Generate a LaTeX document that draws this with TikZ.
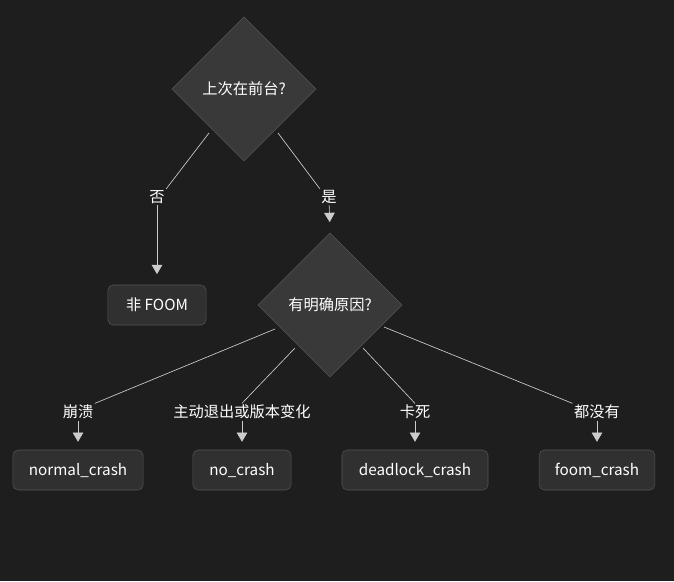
\documentclass[tikz,border=0pt]{standalone}
\usepackage{fontspec}
\setmainfont{Noto Sans CJK SC}
\usetikzlibrary{shapes.geometric,arrows.meta}
\definecolor{bg}{HTML}{1E1E1E}
\definecolor{boxfill}{HTML}{303030}
\definecolor{diafill}{HTML}{393939}
\definecolor{rim}{HTML}{555555}
\definecolor{edge}{HTML}{CCCCCC}
\tikzset{
  decide/.style={diamond, draw=rim, fill=diafill, text=white, minimum width=3.82cm, minimum height=3.82cm, inner sep=0pt, aspect=1},
  result/.style={draw=rim, fill=boxfill, text=white, rounded corners=4pt, minimum height=1.06cm, inner sep=0pt},
  lbl/.style={fill=bg, text=white, inner sep=1pt},
  link/.style={draw=edge, line width=0.5pt},
  flow/.style={draw=edge, line width=0.5pt, shorten >=2pt, -{Triangle[length=7pt,width=8pt]}}
}
\begin{document}
\begin{tikzpicture}[x=0.0265cm, y=-0.0265cm, font=\fontsize{11.5}{13}\selectfont]
				% Canvas:
				\fill[bg] (0,0) rectangle (674,581);
				\useasboundingbox (0,0) rectangle (674,581);
				% Decisions:
				\node[decide](Fg) at (244,89){上次在前台?};
				\node[decide](Why) at (330,305){有明确原因?};
				% Results:
				\node[result, minimum width=2.6cm](NotFoom) at (157,305){非 FOOM};
				\node[result, minimum width=3.45cm](Normal) at (78,470){normal\_crash};
				\node[result, minimum width=2.6cm](NoCrash) at (242,470){no\_crash};
				\node[result, minimum width=3.87cm](Dead) at (415,470){deadlock\_crash};
				\node[result, minimum width=3.07cm](Foom) at (597,470){foom\_crash};
				% Edge labels:
				\node[lbl](LNo) at (157,197){否};
				\node[lbl](LYes) at (329,197){是};
				\node[lbl](LCrash) at (78,412){崩溃};
				\node[lbl](LQuit) at (242,412){主动退出或版本变化};
				\node[lbl](LStuck) at (415,412){卡死};
				\node[lbl](LNone) at (597,412){都没有};
				% Wires:
				\coordinate (a1) at (209,133);
				\coordinate (a2) at (278,133);
				\coordinate (b1) at (275,329);
				\coordinate (b2) at (295,348);
				\coordinate (b3) at (363,348);
				\coordinate (b4) at (384,327);
				\draw[link] (a1) -- (LNo.north east);
				\draw[flow, shorten >=8pt] (LNo) -- (NotFoom);
				\draw[link] (a2) -- (LYes.north west);
				\draw[flow, shorten >=8pt] (LYes) -- (Why.north);
				\draw[link] (b1) -- (LCrash.north east);
				\draw[flow, shorten >=6pt] (LCrash) -- (Normal);
				\draw[link] (b2) -- (LQuit.north);
				\draw[flow, shorten >=6pt] (LQuit) -- (NoCrash);
				\draw[link] (b3) -- (LStuck.north);
				\draw[flow, shorten >=6pt] (LStuck) -- (Dead);
				\draw[link] (b4) -- (LNone.north west);
				\draw[flow, shorten >=6pt] (LNone) -- (Foom);
			\end{tikzpicture}
\end{document}
